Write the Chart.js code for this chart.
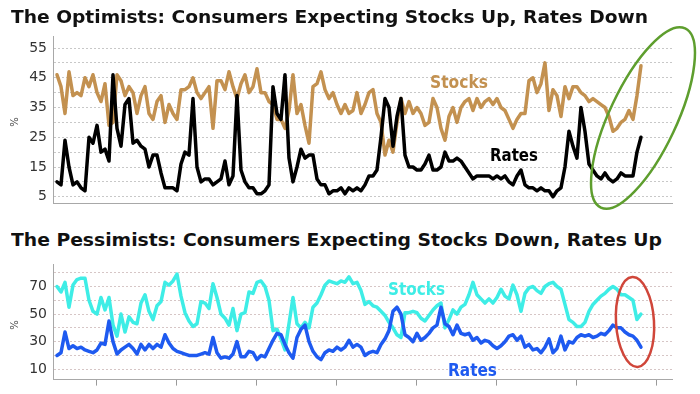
<!DOCTYPE html>
<html>
<head>
<meta charset="utf-8">
<script src="https://cdn.jsdelivr.net/npm/chart.js@4.4.1/dist/chart.umd.min.js"></script>
<style>
html,body{margin:0;padding:0;background:#fff;width:700px;height:394px;overflow:hidden;position:relative}
.cv{position:absolute;left:0}
.txt{position:absolute;font-family:"DejaVu Sans";font-weight:bold;white-space:nowrap;transform-origin:0 0}
.title{font-size:18px;line-height:18px;color:#111}
.lab{font-size:17px;line-height:17px}
.pct{position:absolute;font-family:"DejaVu Sans";font-size:10px;line-height:10px;color:#444;transform:rotate(-90deg)}
</style>
</head>
<body>
<canvas id="c1" class="cv" width="700" height="196" style="top:22px"></canvas>
<canvas id="c2" class="cv" width="700" height="144" style="top:250px"></canvas>

<div id="t1" class="txt title" style="left:11px;top:8px">The Optimists: Consumers Expecting Stocks Up, Rates Down</div>
<div id="t2" class="txt title" style="left:11px;top:231px">The Pessimists: Consumers Expecting Stocks Down, Rates Up</div>
<div id="l1" class="txt lab" style="left:430px;top:74px;color:#C39150">Stocks</div>
<div id="l2" class="txt lab" style="left:490px;top:147px;color:#000">Rates</div>
<div id="l3" class="txt lab" style="left:388px;top:281px;color:#3EEDE6">Stocks</div>
<div id="l4" class="txt lab" style="left:448px;top:362px;color:#1E5AF0">Rates</div>
<div class="pct" style="left:10px;top:117px">%</div>
<div class="pct" style="left:10px;top:320px">%</div>

<script>
// ---- Data (quarterly readings, starting mid-1987) ----
const startYear = 1987.5;
const stepYears = 0.25;

// Optimists: % expecting stocks up
const stocksUp = [46,42,33,47,39,40,39,45,42,46,40,37,43,29,30,46,44,39,42,40,33,39,42,33,31,37,39,30,36,33,31,41,41,42,45,40,38,40,42,
  28,44,44,41,47,42,38,43,46,40,42,48,40,40,37,36,31,31,28,34,46,33,36,29,23,42,43,47,41,38,40,36,33,36,33,34,40,33,36,
  40,41,33,30,19,24,20,30,38,33,37,33,35,33,29,30,38,35,28,24,32,35,30,35,37,38,34,38,35,37,38,36,38,35,34,31,28,31,33,
  33,44,45,40,43,50,34,41,39,32,42,38,42,42,40,39,37,38,37,36,35,32,27,28,30,31,34,31,39,49];

// Optimists: % expecting rates down
const ratesDown = [10,9,24,15,9,10,8,7,25,23,29,20,21,17,46,28,22,36,38,23,24,22,21,15,19,19,13,8,8,8,7,16,20,19,38,15,10,11,11,
  9,10,11,17,9,12,39,14,10,8,8,6,6,7,9,42,33,31,46,18,10,15,21,18,19,19,11,9,9,6,7,7,8,6,8,7,8,7,9,
  12,12,14,25,38,35,22,32,38,19,15,15,14,14,16,19,14,14,15,20,17,17,18,17,15,13,11,12,12,12,12,11,12,11,12,10,9,12,14,
  9,8,8,7,8,7,7,5,7,8,15,27,22,18,35,27,16,14,12,11,13,11,10,11,13,12,12,12,20,25];

// Pessimists: % expecting stocks down
const stocksDown = [70,66,73,55,71,75,76,76,60,52,50,62,53,62,42,34,50,37,48,44,43,58,64,52,46,56,59,73,71,74,79,63,51,45,41,43,59,58,54,
  72,62,50,47,42,54,38,50,51,66,65,73,74,70,60,38,39,32,24,43,62,43,40,44,40,55,58,64,71,74,73,72,74,73,77,72,73,67,57,
  59,56,55,52,49,44,40,35,33,51,51,52,51,47,45,49,53,56,58,40,46,53,50,55,57,64,73,64,61,58,61,58,62,68,63,61,71,64,52,
  65,69,70,67,65,70,72,73,70,68,57,46,44,41,41,44,52,57,60,63,65,68,70,68,64,64,62,60,46,50];

// Pessimists: % expecting rates up
const ratesUp = [20,22,37,25,27,25,26,24,23,22,24,29,28,45,30,21,24,26,28,25,21,28,24,28,25,28,26,35,29,25,23,22,21,20,20,20,21,22,21,
  33,22,18,19,18,21,30,19,19,23,22,17,20,19,25,31,36,35,28,22,18,33,39,42,30,23,19,17,22,24,23,26,24,26,31,26,28,26,20,
  22,23,22,28,32,38,52,55,50,35,33,30,36,31,33,36,40,42,55,43,41,35,42,36,35,36,31,33,29,31,30,27,25,27,30,34,35,31,34,
  26,28,24,25,22,26,32,22,25,34,24,30,29,33,35,34,35,33,34,36,35,38,42,40,40,37,35,34,31,26];

const yearTicks = [1990,1995,2000,2005,2010,2015,2020,2025];
const topGridValues = [5,10,15,20,25,30,35,40,45,50,55];
const topTickLabels = [5,15,25,35,45,55];
const bottomGridValues = [10,20,30,40,50,60,70,80];
const bottomTickLabels = [10,30,50,70];

const periods = stocksUp.map((_, i) => startYear + i * stepYears);
const pts = arr => arr.map((v, i) => ({x: periods[i], y: v}));

// fit text widths
function fit(id, w){
  const el = document.getElementById(id);
  const cur = el.getBoundingClientRect().width;
  el.style.transform = 'scaleX(' + (w / cur) + ')';
}
fit('t1', 637); fit('t2', 651);
fit('l1', 58); fit('l2', 48); fit('l3', 57); fit('l4', 49);

function ellipsePlugin(opts){
  return {
    id: 'ell' + opts.color,
    afterDraw(chart){
      const c = chart.ctx;
      c.save();
      c.strokeStyle = opts.color;
      c.lineWidth = opts.width;
      c.beginPath();
      c.ellipse(opts.cx, opts.cy - opts.offY, opts.rx, opts.ry, opts.rot, 0, Math.PI * 2);
      c.stroke();
      c.restore();
    }
  };
}

const fontTick = {family: 'DejaVu Sans', size: 14};

function makeChart(id, datasets, cfg){
  return new Chart(document.getElementById(id), {
    type: 'line',
    data: {datasets},
    options: {
      responsive: false,
      animation: false,
      events: [],
      layout: {padding: {top: cfg.padTop, right: 28, left: 0, bottom: 0}},
      elements: {
        point: {radius: 0},
        line: {tension: 0, borderJoinStyle: 'round', borderCapStyle: 'round', borderWidth: 3.5}
      },
      plugins: {legend: {display: false}, tooltip: {enabled: false}},
      scales: {
        x: {
          type: 'linear', min: 1987.25, max: 2025.94,
          afterBuildTicks: s => { s.ticks = yearTicks.map(v => ({value: v})); },
          afterFit: s => { s.height = cfg.xHeight; },
          ticks: {display: false},
          grid: cfg.xTicks ? {display: true, drawOnChartArea: false, drawTicks: true, tickLength: 6, tickColor: '#9a9a9a', color: '#9a9a9a'} : {display: false},
          border: {display: true, color: '#a8a8a8', width: 1}
        },
        y: {
          min: cfg.yMin, max: cfg.yMax,
          afterBuildTicks: s => { s.ticks = cfg.grid.map(v => ({value: v})); },
          afterFit: s => { s.width = 53; },
          ticks: {autoSkip: false, padding: 6, font: fontTick, color: '#333',
                  callback: v => cfg.labels.includes(v) ? String(v) : ''},
          grid: {color: cfg.gridColor, drawTicks: false, lineWidth: 1},
          border: {display: true, color: '#a8a8a8', width: 1, dash: [2, 2]}
        }
      }
    },
    plugins: [ellipsePlugin(cfg.ellipse)]
  });
}

makeChart('c1', [
  {data: pts(ratesDown), borderColor: '#000000'},
  {data: pts(stocksUp), borderColor: '#C39150'}
], {
  padTop: 11, xHeight: 11, xTicks: false, yMin: 2.7, yMax: 58.9,
  grid: topGridValues, labels: topTickLabels, gridColor: '#c8c8c8',
  ellipse: {cx: 643, cy: 118, rx: 99, ry: 33.5, rot: -64.8 * Math.PI / 180, offY: 22, color: '#5E9E2E', width: 2.5}
});

makeChart('c2', [
  {data: pts(ratesUp), borderColor: '#1E5AF0'},
  {data: pts(stocksDown), borderColor: '#3EEDE6'}
], {
  padTop: 13, xHeight: 8, xTicks: true, yMin: 2.5, yMax: 86,
  grid: bottomGridValues, labels: bottomTickLabels, gridColor: '#d6c6c6',
  ellipse: {cx: 635, cy: 322, rx: 19, ry: 45, rot: -0.06, offY: 250, color: '#D0463A', width: 2.5}
});
</script>
</body>
</html>
